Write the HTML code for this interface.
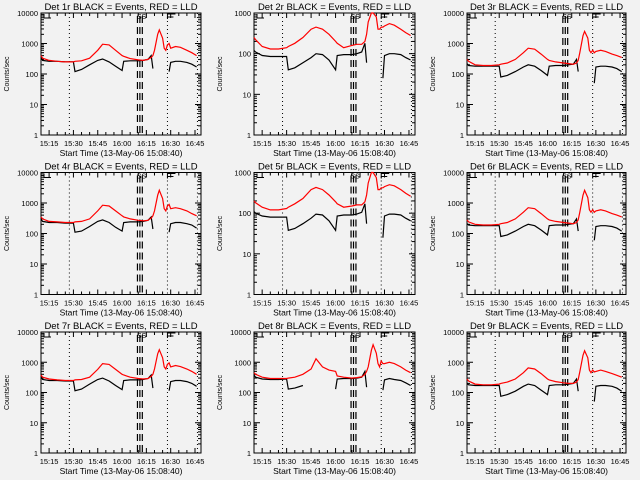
<!DOCTYPE html>
<html><head><meta charset="utf-8"><style>
html,body{margin:0;padding:0;background:#f2f2f2;}
svg{display:block;font-family:"Liberation Sans",sans-serif;}
</style></head><body>
<svg id="c" width="640" height="480" viewBox="0 0 640 480"></svg>
<script>
const times = [0,1,5,10,15,20,21,25,30,35,38,42,46,50,51,55,60,63,66,68,69,70,72,73,75,76,77,78,79,80,83,86,90,93,96];
const xTickLabels = ["15:15","15:30","15:45","16:00","16:15","16:30","16:45"];
const xTickMinutes = [5,20,35,50,65,80,95];
const panelTitles = ["Det 1r","Det 2r","Det 3r","Det 4r","Det 5r","Det 6r","Det 7r","Det 8r","Det 9r"];
const panelTopDecades = [4,3,4,4,3,4,4,4,4];
const N = null;
const red1 = [400,330,280,260,250,250,260,270,330,600,950,900,600,400,380,320,290,280,300,350,400,600,2000,2800,1500,700,600,900,1000,700,800,750,600,500,400];
const blk1 = [350,280,260,260,250,250,120,140,200,280,310,250,180,130,260,270,270,280,300,400,150,N,N,N,N,N,N,N,120,240,260,260,240,210,170];
const red2 = [250,220,150,130,130,140,150,180,250,400,450,400,300,200,180,140,160,170,170,200,300,600,1300,1500,800,400,400,450,450,480,550,500,400,330,280];
const blk2 = [120,110,90,85,85,85,40,45,60,80,100,95,70,40,90,95,95,100,110,180,60,N,N,N,N,N,N,N,25,90,100,100,95,80,70];
const red3 = [300,260,200,190,190,200,210,230,300,500,700,650,450,300,280,250,230,220,210,230,280,500,1800,2500,1500,600,500,600,500,550,600,550,450,400,350];
const blk3 = [220,190,180,180,180,180,80,90,120,170,200,180,130,90,180,190,190,200,210,300,120,N,N,N,N,N,N,N,50,170,180,180,170,150,120];
const red4 = [350,300,250,240,230,230,240,250,300,550,850,800,550,380,350,300,270,260,270,320,380,550,1800,2600,1400,650,550,800,900,650,700,650,550,450,380];
const blk4 = [300,250,230,230,220,220,110,120,170,250,280,230,160,120,230,240,240,250,270,350,140,N,N,N,N,N,N,N,110,210,230,230,210,190,150];
const red5 = [200,180,140,120,120,130,140,170,230,380,430,380,280,190,170,140,150,160,160,190,280,550,1200,1500,750,380,380,420,420,450,500,470,380,310,260];
const blk5 = [110,100,85,80,80,80,38,42,55,75,95,90,65,38,85,90,90,95,105,170,55,N,N,N,N,N,N,N,25,85,95,95,90,75,65];
const red6 = [280,240,200,190,190,200,210,230,300,500,700,650,450,300,280,250,230,220,210,230,280,500,1800,2600,1500,600,500,600,500,550,600,550,450,400,350];
const blk6 = [210,190,180,180,180,180,80,90,120,170,200,180,130,90,180,190,190,200,210,300,120,N,N,N,N,N,N,N,60,170,180,180,170,150,120];
const red7 = [380,320,280,260,250,250,260,270,320,580,900,850,580,400,380,320,290,280,290,340,400,600,1900,2600,1400,700,600,850,950,700,780,720,600,500,400];
const blk7 = [330,270,250,250,240,240,115,130,190,270,300,240,170,125,250,260,260,270,290,380,140,N,N,N,N,N,N,N,115,230,250,250,230,200,160];
const red8 = [450,400,320,290,290,290,300,320,400,600,1300,700,550,500,350,320,300,310,330,400,500,700,2500,3800,2000,900,700,1100,900,900,1000,900,700,550,450];
const blk8 = [380,320,280,270,270,280,130,140,170,N,250,N,N,130,280,290,290,300,320,500,150,N,N,N,N,N,N,N,120,260,290,270,250,210,170];
const red9 = [280,240,190,180,180,190,200,220,280,450,650,600,420,280,260,230,210,200,200,220,270,480,1700,2400,1400,550,450,550,480,500,550,500,420,370,320];
const blk9 = [200,180,170,170,170,170,75,85,110,160,190,170,120,85,170,180,180,190,200,280,110,N,N,N,N,N,N,N,50,160,170,170,160,140,110];
const redSeries = [red1,red2,red3,red4,red5,red6,red7,red8,red9];
const blackSeries = [blk1,blk2,blk3,blk4,blk5,blk6,blk7,blk8,blk9];

const NS="http://www.w3.org/2000/svg";
const svg=document.getElementById('c');
const colX0=[41,254,467], colX1=[201,415,626];
const rowY0=[13,172.5,332], rowY1=[135,294.5,453];
const TMAX=98.7;
function mk(tag,attrs,parent){const e=document.createElementNS(NS,tag);for(const k in attrs)e.setAttribute(k,attrs[k]);(parent||svg).appendChild(e);return e;}

for(let p=0;p<9;p++){
  const c=p%3,r=Math.floor(p/3);
  const x0=colX0[c],x1=colX1[c],y0=rowY0[r],y1=rowY1[r];
  const top=panelTopDecades[p];
  const xs=t=>x0+(t/TMAX)*(x1-x0);
  const ys=v=>y1-(Math.log10(v)/top)*(y1-y0);
  const g=mk('g',{});
  
  
  const tt=mk('text',{x:(x0+x1)/2,y:y0-3,'text-anchor':'middle','font-size':'9.5'},g);
  tt.textContent=panelTitles[p]+" BLACK = Events, RED = LLD";
  
  
  const box=mk('rect',{x:x0,y:y0,width:x1-x0,height:y1-y0,fill:'none',stroke:'#000','stroke-width':1},g);
  
  
  for(let d=0;d<=top;d++){
    const y=ys(Math.pow(10,d));
    mk('line',{x1:x0,y1:y,x2:x0+6,y2:y,stroke:'#000'},g);
    mk('line',{x1:x1,y1:y,x2:x1-6,y2:y,stroke:'#000'},g);
    const lb=mk('text',{x:x0-3,y:y+3,'text-anchor':'end','font-size':'7.5'},g);
    lb.textContent=String(Math.pow(10,d));
    
    
    if(d<top)for(let m=2;m<=9;m++){
      const ym=ys(m*Math.pow(10,d));
      mk('line',{x1:x0,y1:ym,x2:x0+3,y2:ym,stroke:'#000'},g);
      mk('line',{x1:x1,y1:ym,x2:x1-3,y2:ym,stroke:'#000'},g);
    }
  }
  for(let m=0;m<=TMAX;m+=5){
    const x=xs(m);const major=((m-5)%15===0);
    const L=major?5:3;
    mk('line',{x1:x,y1:y1,x2:x,y2:y1-L,stroke:'#000'},g);
    mk('line',{x1:x,y1:y0,x2:x,y2:y0+L,stroke:'#000'},g);
  }
  xTickMinutes.forEach((m,i)=>{
    const lb=mk('text',{x:xs(m),y:y1+11,'text-anchor':'middle','font-size':'7.5'},g);
    lb.textContent=xTickLabels[i];
    
    
  });
  const xl=mk('text',{x:(x0+x1)/2,y:y1+21,'text-anchor':'middle','font-size':'8.5'},g);
  xl.textContent="Start Time (13-May-06 15:08:40)";
  
  
  const yl=mk('text',{x:0,y:0,'text-anchor':'middle','font-size':'7',transform:`translate(${x0-32},${(y0+y1)/2}) rotate(-90)`},g);
  yl.textContent="Counts/sec";
  
  
  [17.5,78,96.5].forEach(t=>{
    const l=mk('line',{x1:xs(t),y1:y0,x2:xs(t),y2:y1,stroke:'#000','stroke-dasharray':'1,3'},g);
    
    
  });
  [59.5,61,62.5].forEach(t=>{
    const l=mk('line',{x1:xs(t),y1:y0+3,x2:xs(t),y2:y1,stroke:'#000','stroke-dasharray':'7,4','stroke-width':1.2},g);
    
    
  });
  mk('path',{d:`M${x0+3},${y0+1}V${y0+5}H${x0+10}`,fill:'none',stroke:'#000'},g);
  mk('path',{d:`M${xs(78)},${y0+6}V${y0+1}H${xs(78)+8}M${xs(78)},${y0+4}H${xs(78)+6}`,fill:'none',stroke:'#000'},g);
  const ss=mk('text',{x:xs(62),y:y0+6,'text-anchor':'middle','font-size':'7'},g);
  ss.textContent="SS";
  function draw(arr,color,name){
    let d='',pen=false;
    for(let i=0;i<times.length;i++){
      const v=arr[i];
      if(v===null){pen=false;continue;}
      const y=Math.max(y0,ys(v));
      d+=(pen?'L':'M')+xs(times[i]).toFixed(1)+','+y.toFixed(1);
      pen=true;
    }
    const pth=mk('path',{d:d,fill:'none',stroke:color,'stroke-width':1.2},g);
    
    
  }
  draw(blackSeries[p],'#000','events-series');
  draw(redSeries[p],'#ff0000','lld-series');
}
</script>
</body></html>
